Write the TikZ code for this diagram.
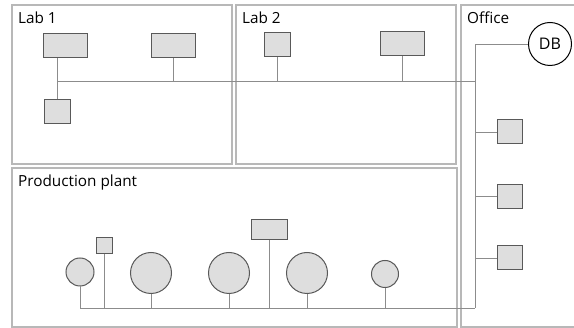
\documentclass[tikz,border=0pt]{standalone}
\usepackage{fontspec}
\setmainfont{Open Sans}
\begin{document}
\begin{tikzpicture}[x=1pt,y=-1pt,
  frame/.style={draw=black!28,line width=1.1pt},
  area/.style={anchor=base west,inner sep=0pt,font=\fontsize{15.3}{17}\selectfont,text=black},
  device/.style={draw=black!65,fill=black!13,line width=1pt,inner sep=0pt,minimum width=#1},
  unit/.style={device=26pt,minimum height=24pt},
  wide/.style={device=44pt,minimum height=24pt},
  tank/.style={circle,draw=black!65,fill=black!13,line width=1pt,inner sep=0pt,minimum size=#1},
  wire/.style={draw=black!45,line width=0.9pt}]
\useasboundingbox (0,0) rectangle (574,328);
\fill[white] (0,0) rectangle (574,328);

% rooms
\draw[frame] (12,5) rectangle (232,164);
\draw[frame] (236,5) rectangle (456,164);
\draw[frame] (12,168) rectangle (457,327);
\draw[frame] (461,5) rectangle (580,327);
\node[area] (lab1) at (18,24) {Lab 1};
\node[area] (lab2) at (242,24) {Lab 2};
\node[area] (office) at (467,24) {Office};
\node[area] (plant) at (18,187) {Production plant};

% Lab 1 devices
\node[wide] (a1) at (65,45.5) {};
\node[wide] (a2) at (173,45.5) {};
\node[unit] (a3) at (57,112) {};
% Lab 2 devices
\node[unit] (b1) at (277,45) {};
\node[wide] (b2) at (402,44) {};

% office
\node[circle,draw=black,fill=white,line width=1pt,minimum size=43pt,inner sep=0pt,
      font=\fontsize{16}{17}\selectfont] (db) at (550,44) {DB};
\node[device=25pt,minimum height=24pt] (o1) at (509.5,132) {};
\node[device=25pt,minimum height=24pt] (o2) at (509.5,196.5) {};
\node[device=25pt,minimum height=24pt] (o3) at (509.5,258) {};

% production plant
\node[tank=28pt] (p1) at (80,272) {};
\node[device=16pt,minimum height=16pt] (p2) at (104,246) {};
\node[tank=41pt] (p3) at (151,273) {};
\node[tank=41pt] (p4) at (229,273) {};
\node[device=36pt,minimum height=20pt] (p5) at (269,230) {};
\node[tank=41pt] (p6) at (307,273) {};
\node[tank=27pt] (p7) at (385,274) {};

% bus junctions
\coordinate (labbus) at (57,81);
\coordinate (otop) at (475,44);
\coordinate (olab) at (475,81);
\coordinate (obot) at (475,308);
\coordinate (pstart) at (80,308);

% lab bus
\draw[wire] (a3.north) -- (a3.north |- a1.south);
\draw[wire] (labbus) -- (olab);
\draw[wire] (a2.south) -- (a2.south |- labbus);
\draw[wire] (b1.south) -- (b1.south |- labbus);
\draw[wire] (b2.south) -- (b2.south |- labbus);

% office bus
\draw[wire] (db.west) -- (otop) -- (obot);
\draw[wire] (o1.west) -- (o1.west -| otop);
\draw[wire] (o2.west) -- (o2.west -| otop);
\draw[wire] (o3.west) -- (o3.west -| otop);

% plant bus
\draw[wire] (p1.south) -- (pstart) -- (obot);
\draw[wire] (p2.south) -- (p2.south |- pstart);
\draw[wire] (p3.south) -- (p3.south |- pstart);
\draw[wire] (p4.south) -- (p4.south |- pstart);
\draw[wire] (p5.south) -- (p5.south |- pstart);
\draw[wire] (p6.south) -- (p6.south |- pstart);
\draw[wire] (p7.south) -- (p7.south |- pstart);
\end{tikzpicture}
\end{document}
